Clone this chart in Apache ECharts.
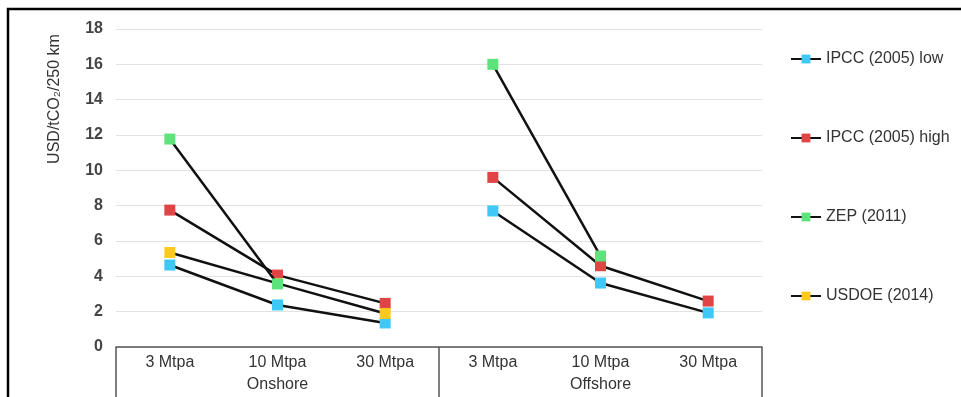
<!DOCTYPE html>
<html>
<head>
<meta charset="utf-8">
<script src="https://cdn.jsdelivr.net/npm/echarts@6/dist/echarts.min.js"></script>
<style>
  html, body { margin: 0; padding: 0; background: #fff; }
  #chart { width: 961px; height: 397px; }
</style>
</head>
<body>
<div id="chart"></div>
<script>
// categories
var sizes = ['3 Mtpa', '10 Mtpa', '30 Mtpa'];
var groups = ['Onshore', 'Offshore'];
var yTicks = [0, 2, 4, 6, 8, 10, 12, 14, 16, 18];

// values per source: [3, 10, 30 Mtpa]
var ipccLowOn = [4.64, 2.38, 1.36];
var ipccLowOff = [7.7, 3.62, 1.93];
var ipccHighOn = [7.75, 4.07, 2.47];
var ipccHighOff = [9.6, 4.6, 2.6];
var zepOn = [11.77, 3.57, null];
var zepOff = [16.0, 5.15, null];
var usdoeOn = [5.35, 3.6, 1.9];
var usdoeOff = [null, null, null];

var names = ['IPCC (2005) low', 'IPCC (2005) high', 'ZEP (2011)', 'USDOE (2014)'];
var colors = ['#3ec8f6', '#e04444', '#5ee27c', '#ffc91e'];

var categories = [];
groups.forEach(function (g) {
  sizes.forEach(function (s) { categories.push(g + '|' + s); });
});

function onshore(v) { return v.concat([null, null, null]); }
function offshore(v) { return [null, null, null].concat(v); }

var sets = [
  [ipccLowOn, ipccLowOff],
  [ipccHighOn, ipccHighOff],
  [zepOn, zepOff],
  [usdoeOn, usdoeOff]
];

var series = [];
sets.forEach(function (pair, i) {
  [onshore(pair[0]), offshore(pair[1])].forEach(function (d) {
    series.push({
      name: names[i],
      type: 'line',
      data: d,
      symbol: 'rect',
      symbolSize: 11,
      z: i === 2 ? 4 : 2,
      itemStyle: { color: colors[i] },
      lineStyle: { color: '#111', width: 2.5 },
      emphasis: { disabled: true }
    });
  });
});

var chart = echarts.init(document.getElementById('chart'));
chart.setOption({
  animation: false,
  grid: { left: 116, right: 199, top: 29, bottom: 50 },
  legend: {
    orient: 'vertical',
    left: 785,
    top: 46,
    itemWidth: 30,
    itemHeight: 11,
    itemGap: 63,
    data: names,
    textStyle: { fontFamily: 'Liberation Sans', fontSize: 16, color: '#333' }
  },
  xAxis: [{
    type: 'category',
    data: categories,
    position: 'bottom',
    axisLine: { show: true, lineStyle: { color: '#555', width: 1.5 } },
    axisTick: { show: false },
    axisLabel: {
      margin: 8,
      fontFamily: 'Liberation Sans',
      fontSize: 16,
      color: '#333',
      formatter: function (v) { return v.split('|')[1]; }
    }
  }, {
    type: 'category',
    data: groups,
    position: 'bottom',
    axisLine: { show: false },
    axisTick: { show: true, length: 70, lineStyle: { color: '#555', width: 1.5 } },
    axisLabel: { margin: 30, fontFamily: 'Liberation Sans', fontSize: 16, color: '#333' }
  }],
  yAxis: {
    type: 'value',
    min: yTicks[0],
    max: yTicks[yTicks.length - 1],
    interval: 2,
    axisLine: { show: false },
    axisTick: { show: false },
    splitLine: { lineStyle: { color: '#e2e2e2', width: 1 } },
    axisLabel: {
      margin: 13,
      fontFamily: 'Liberation Sans',
      fontSize: 16,
      fontWeight: 'bold',
      color: '#444'
    }
  },
  graphic: [{
    type: 'rect',
    shape: { x: 8, y: 9, width: 1000, height: 500 },
    style: { fill: 'none', stroke: '#000', lineWidth: 2.5 },
    silent: true
  }, {
    type: 'text',
    x: 55,
    y: 99,
    rotation: Math.PI / 2,
    style: {
      text: 'USD/tCO\u2082/250 km',
      fontFamily: 'Liberation Sans',
      fontSize: 16,
      fill: '#333',
      align: 'center',
      verticalAlign: 'middle'
    }
  }],
  series: series
});
</script>
</body>
</html>
